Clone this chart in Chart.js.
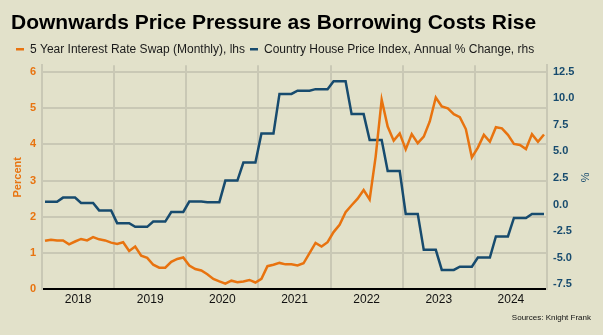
<!DOCTYPE html>
<html>
<head>
<meta charset="UTF-8">
<title>Downwards Price Pressure</title>
<script src="https://cdn.jsdelivr.net/npm/chart.js@4.4.1/dist/chart.umd.min.js"></script>
<style>
  body { margin: 0; background: #E2E1CA; }
  canvas { display: block; }
</style>
</head>
<body>
<canvas id="chart" width="603" height="335"></canvas>
<script>
// years on the x axis (one label per year, months 0..83 from Jan 2018)
var years = ['2018', '2019', '2020', '2021', '2022', '2023', '2024'];

// 5 year interest rate swap, monthly, % (lhs)
var swapRate = [
  1.34, 1.37, 1.35, 1.35, 1.24, 1.32, 1.39, 1.35, 1.44, 1.38, 1.35, 1.29,
  1.25, 1.30, 1.06, 1.18, 0.93, 0.87, 0.68, 0.60, 0.60, 0.76, 0.84, 0.88,
  0.66, 0.56, 0.52, 0.42, 0.29, 0.22, 0.16, 0.24, 0.20, 0.22, 0.26, 0.19,
  0.29, 0.64, 0.68, 0.73, 0.69, 0.69, 0.66, 0.72, 1.00, 1.28, 1.18, 1.30,
  1.58, 1.78, 2.13, 2.32, 2.50, 2.74, 2.48, 3.66, 5.23, 4.49, 4.10, 4.30,
  3.86, 4.28, 4.03, 4.21, 4.63, 5.29, 5.04, 4.99, 4.83, 4.75, 4.42, 3.64,
  3.91, 4.26, 4.07, 4.47, 4.44, 4.26, 4.01, 3.98, 3.87, 4.28, 4.07, 4.27
];

// country house price index, annual % change (rhs), quarterly value held per month
var housePrice = [
  0.25, 0.25, 0.25, 0.65, 0.65, 0.65, 0.15, 0.15, 0.15, -0.55, -0.55, -0.55,
  -1.75, -1.75, -1.75, -2.1, -2.1, -2.1, -1.6, -1.6, -1.6, -0.7, -0.7, -0.7,
  0.28, 0.28, 0.28, 0.22, 0.22, 0.22, 2.25, 2.25, 2.25, 3.95, 3.95, 3.95,
  6.67, 6.67, 6.67, 10.4, 10.4, 10.4, 10.7, 10.7, 10.7, 10.85, 10.85, 10.85,
  11.6, 11.6, 11.6, 8.5, 8.5, 8.5, 6.06, 6.06, 6.06, 3.16, 3.16, 3.16,
  -0.88, -0.88, -0.88, -4.26, -4.26, -4.26, -6.15, -6.15, -6.15, -5.84, -5.84, -5.84,
  -4.98, -4.98, -4.98, -3.0, -3.0, -3.0, -1.26, -1.26, -1.26, -0.88, -0.88, -0.88
];

var leftTicks = [0, 1, 2, 3, 4, 5, 6];
var rightTicks = [-7.5, -5, -2.5, 0, 2.5, 5, 7.5, 10, 12.5];

var orange = '#E8730F';
var blue = '#174B6E';
var gridColor = '#C9C8B5';
var font = "'Liberation Sans', Arial, sans-serif";

function toPoints(arr) {
  return arr.map(function (v, i) { return { x: i + 0.5, y: v }; });
}

var ctx = document.getElementById('chart').getContext('2d');
new Chart(ctx, {
  type: 'line',
  data: {
    datasets: [
      {
        label: '5 Year Interest Rate Swap (Monthly), lhs',
        data: toPoints(swapRate),
        borderColor: orange,
        backgroundColor: orange,
        borderWidth: 2.5,
        pointRadius: 0,
        tension: 0,
        yAxisID: 'yL'
      },
      {
        label: 'Country House Price Index, Annual % Change, rhs',
        data: toPoints(housePrice),
        borderColor: blue,
        backgroundColor: blue,
        borderWidth: 2.5,
        pointRadius: 0,
        tension: 0,
        yAxisID: 'yR'
      }
    ]
  },
  options: {
    responsive: false,
    animation: false,
    layout: { padding: { top: 11, left: 11, right: 12, bottom: 4 } },
    plugins: {
      title: {
        display: true,
        text: 'Downwards Price Pressure as Borrowing Costs Rise',
        align: 'start',
        color: '#000',
        font: { family: font, size: 21, weight: 'bold' },
        padding: { top: 0, bottom: 2 }
      },
      subtitle: {
        display: true,
        position: 'bottom',
        align: 'end',
        text: 'Sources: Knight Frank',
        color: '#111',
        font: { family: font, size: 8 },
        padding: { top: 0, bottom: 8 }
      },
      legend: {
        display: true,
        align: 'start',
        labels: {
          usePointStyle: true,
          pointStyle: 'line',
          pointStyleWidth: 8,
          boxHeight: 8,
          padding: 5,
          color: '#1a1a1a',
          font: { family: font, size: 12 }
        }
      },
      tooltip: { enabled: false }
    },
    scales: {
      x: {
        type: 'linear',
        min: 0,
        max: 84,
        afterBuildTicks: function (axis) {
          var t = [];
          for (var v = 0; v <= 84; v += 6) t.push({ value: v });
          axis.ticks = t;
        },
        afterFit: function (axis) { axis.height = 24; },
        ticks: {
          autoSkip: false,
          maxRotation: 0,
          padding: 3,
          color: '#111',
          font: { family: font, size: 12 },
          callback: function (v) {
            return v % 12 === 6 ? years[(v - 6) / 12] : '';
          }
        },
        grid: {
          drawTicks: false,
          lineWidth: 2,
          color: function (c) {
            var v = c.tick && c.tick.value;
            return (v % 12 === 0 && v > 0 && v < 84) ? gridColor : 'rgba(0,0,0,0)';
          }
        },
        border: { color: '#000', width: 2 }
      },
      yL: {
        position: 'left',
        min: 0,
        max: 6.18,
        afterBuildTicks: function (axis) {
          axis.ticks = leftTicks.map(function (v) { return { value: v }; });
        },
        afterFit: function (axis) { axis.width = 31; },
        ticks: {
          padding: 6,
          color: orange,
          font: { family: font, size: 11, weight: 'bold' }
        },
        title: {
          display: true,
          text: 'Percent',
          color: orange,
          padding: 0,
          font: { family: font, size: 11, weight: 'bold' }
        },
        grid: { drawTicks: false, lineWidth: 2, color: gridColor },
        border: { color: gridColor, width: 2 }
      },
      yR: {
        position: 'right',
        min: -7.98,
        max: 13.1,
        afterBuildTicks: function (axis) {
          axis.ticks = rightTicks.map(function (v) { return { value: v }; });
        },
        afterFit: function (axis) { axis.width = 44; },
        ticks: {
          padding: 6,
          color: blue,
          font: { family: font, size: 11, weight: 'bold' },
          callback: function (v) { return v.toFixed(1); }
        },
        title: {
          display: true,
          text: '%',
          color: blue,
          padding: 0,
          font: { family: font, size: 11 }
        },
        grid: { drawOnChartArea: false, drawTicks: false },
        border: { color: gridColor, width: 2 }
      }
    }
  }
});
</script>
</body>
</html>
